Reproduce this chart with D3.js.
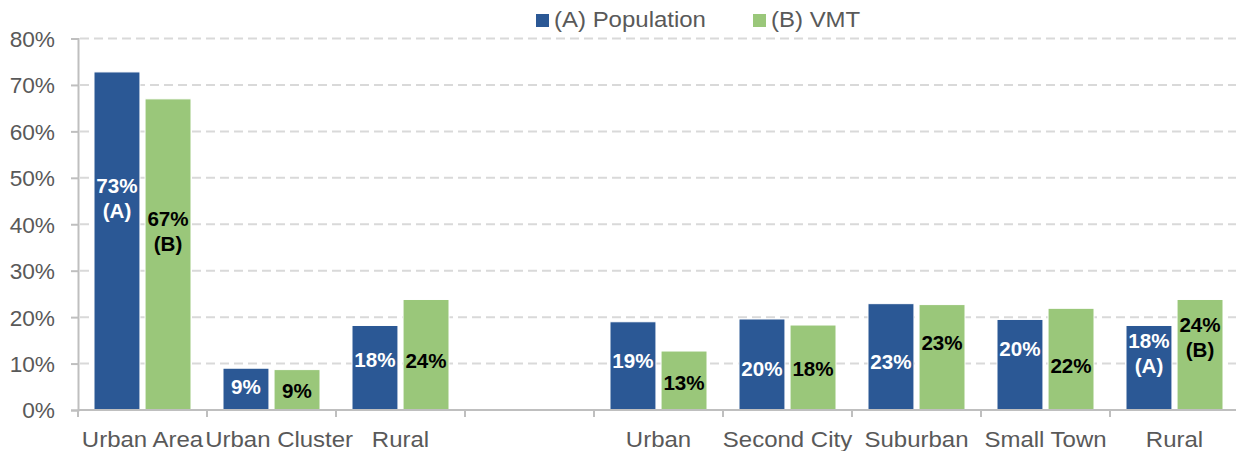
<!DOCTYPE html>
<html>
<head>
<meta charset="utf-8">
<script src="https://cdn.jsdelivr.net/npm/d3@7"></script>
<style>
  body { margin: 0; background: #fff; }
  svg { display: block; font-family: "Liberation Sans", Arial, sans-serif; }
</style>
</head>
<body>
<svg id="chart" width="1236" height="451"></svg>
<script>
// chart data
var categories = ['Urban Area', 'Urban Cluster', 'Rural', '', 'Urban', 'Second City', 'Suburban', 'Small Town', 'Rural'];
var seriesNames = ['(A) Population', '(B) VMT'];
var popValues = [72.8, 9.0, 18.2, null, 19.0, 19.6, 22.9, 19.5, 18.2];
var vmtValues = [67.0, 8.7, 23.8, null, 12.7, 18.3, 22.7, 21.9, 23.8];
var yTicks = [0, 10, 20, 30, 40, 50, 60, 70, 80];
// which bars carry the (A)/(B) tag in their label
var tagged = [0, 8];
// where the first label line sits, in % units
var popLabelAt = [46.7, 3.4, 9.3, null, 9.1, 7.3, 8.8, 11.6, 13.3];
var vmtLabelAt = [39.7, 2.5, 9.0, null, 4.3, 7.3, 12.9, 8.0, 16.9];

var colors = ['#2b5895', '#9ac77a'];
var stretch = 1.09; // source picture is a bit wide

var svg = d3.select('#chart');
var plotLeft = 78, plotRight = 1239, plotTop = 38.5, plotBottom = 410;

var x = d3.scaleBand().domain(d3.range(categories.length)).range([plotLeft, plotRight]);
var x1 = d3.scaleBand().domain([0, 1]).range([16, x.bandwidth() - 16]).paddingInner(0.1);
var y = d3.scaleLinear().domain([0, 80]).range([plotBottom, plotTop]);

function widen(sel, k) {
    sel.each(function () {
        var len = this.getComputedTextLength();
        d3.select(this).attr('textLength', len * k).attr('lengthAdjust', 'spacingAndGlyphs');
    });
}

// gridlines
svg.append('g')
    .selectAll('line')
    .data(yTicks.filter(function (d) { return d > 0; }))
    .enter().append('line')
    .attr('x1', plotLeft + 2).attr('x2', 1236)
    .attr('y1', function (d) { return y(d); })
    .attr('y2', function (d) { return y(d); })
    .attr('stroke', '#d9d9d9')
    .attr('stroke-width', 2)
    .attr('stroke-dasharray', '9,5');

// y axis
var yAxis = svg.append('g')
    .attr('transform', 'translate(' + plotLeft + ',0)')
    .call(d3.axisLeft(y).tickValues(yTicks).tickFormat(function (d) { return d + '%'; }).tickSizeOuter(0).tickSize(7).tickPadding(16));
yAxis.select('.domain').attr('stroke', '#bfbfbf').attr('stroke-width', 2);
yAxis.selectAll('.tick line').attr('stroke', '#bfbfbf').attr('stroke-width', 2);
yAxis.selectAll('.tick text')
    .attr('fill', '#595959')
    .attr('dy', '0.36em')
    .style('font-size', '22px')
    .style('font-family', '"Liberation Sans", Arial, sans-serif');
widen(yAxis.selectAll('.tick text'), 1.03);

// bars
var rows = categories.map(function (c, i) {
    return { i: i, vals: [popValues[i], vmtValues[i]], at: [popLabelAt[i], vmtLabelAt[i]] };
});

var groups = svg.append('g').selectAll('g')
    .data(rows)
    .enter().append('g')
    .attr('transform', function (d) { return 'translate(' + x(d.i) + ',0)'; });

groups.selectAll('rect')
    .data(function (d) {
        return d.vals.map(function (v, s) { return { s: s, v: v }; }).filter(function (b) { return b.v != null; });
    })
    .enter().append('rect')
    .attr('x', function (b) { return x1(b.s); })
    .attr('width', x1.bandwidth())
    .attr('y', function (b) { return y(b.v); })
    .attr('height', function (b) { return y(0) - y(b.v); })
    .attr('fill', function (b) { return colors[b.s]; })
    .attr('stroke', '#ffffff')
    .attr('stroke-width', 1);

// x axis line and ticks
svg.append('line')
    .attr('x1', plotLeft).attr('x2', 1236)
    .attr('y1', plotBottom).attr('y2', plotBottom)
    .attr('stroke', '#bfbfbf').attr('stroke-width', 2);
svg.append('g').selectAll('line')
    .data(d3.range(categories.length))
    .enter().append('line')
    .attr('x1', function (d) { return x(d); })
    .attr('x2', function (d) { return x(d); })
    .attr('y1', plotBottom).attr('y2', plotBottom + 7)
    .attr('stroke', '#bfbfbf').attr('stroke-width', 2);

// data labels
var labels = groups.selectAll('text')
    .data(function (d) {
        return d.vals.map(function (v, s) {
            return { s: s, v: v, at: d.at[s], tag: tagged.indexOf(d.i) >= 0 };
        }).filter(function (b) { return b.v != null; });
    })
    .enter().append('text')
    .attr('text-anchor', 'middle')
    .attr('fill', function (b) { return b.s === 0 ? '#ffffff' : '#000000'; })
    .style('font-size', '20px')
    .style('font-weight', 'bold');

labels.append('tspan')
    .attr('x', function (b) { return x1(b.s) + x1.bandwidth() / 2; })
    .attr('y', function (b) { return y(b.at); })
    .text(function (b) { return Math.round(b.v) + '%'; });
labels.filter(function (b) { return b.tag; })
    .append('tspan')
    .attr('x', function (b) { return x1(b.s) + x1.bandwidth() / 2; })
    .attr('y', function (b) { return y(b.at) + 25; })
    .text(function (b) { return b.s === 0 ? '(A)' : '(B)'; });
labels.selectAll('tspan').each(function () {
    var len = this.getComputedTextLength();
    d3.select(this).attr('textLength', len * 1.03).attr('lengthAdjust', 'spacingAndGlyphs');
});

// category labels, nudged right when they would overlap (like Excel)
var catText = svg.append('g').selectAll('text')
    .data(rows.filter(function (d) { return categories[d.i] !== ''; }))
    .enter().append('text')
    .attr('text-anchor', 'middle')
    .attr('x', function (d) { return x(d.i) + x.bandwidth() / 2; })
    .attr('y', 447)
    .attr('fill', '#595959')
    .style('font-size', '22px')
    .text(function (d) { return categories[d.i]; });
widen(catText, stretch);
var prevRight = -Infinity;
catText.each(function () {
    var t = d3.select(this);
    var w = this.getComputedTextLength();
    var cx = +t.attr('x');
    if (cx - w / 2 < prevRight + 2) {
        cx = prevRight + 2 + w / 2;
        t.attr('x', cx);
    }
    prevRight = cx + w / 2;
});

// legend
var legend = svg.append('g').selectAll('g')
    .data(seriesNames)
    .enter().append('g')
    .attr('transform', function (d, i) { return 'translate(' + (536 + i * 217) + ',14)'; });
legend.append('rect')
    .attr('width', 13).attr('height', 13)
    .attr('fill', function (d, i) { return colors[i]; });
var legText = legend.append('text')
    .attr('x', 18).attr('y', 13)
    .attr('fill', '#595959')
    .style('font-size', '22px')
    .text(function (d) { return d; });
widen(legText, stretch);
</script>
</body>
</html>
